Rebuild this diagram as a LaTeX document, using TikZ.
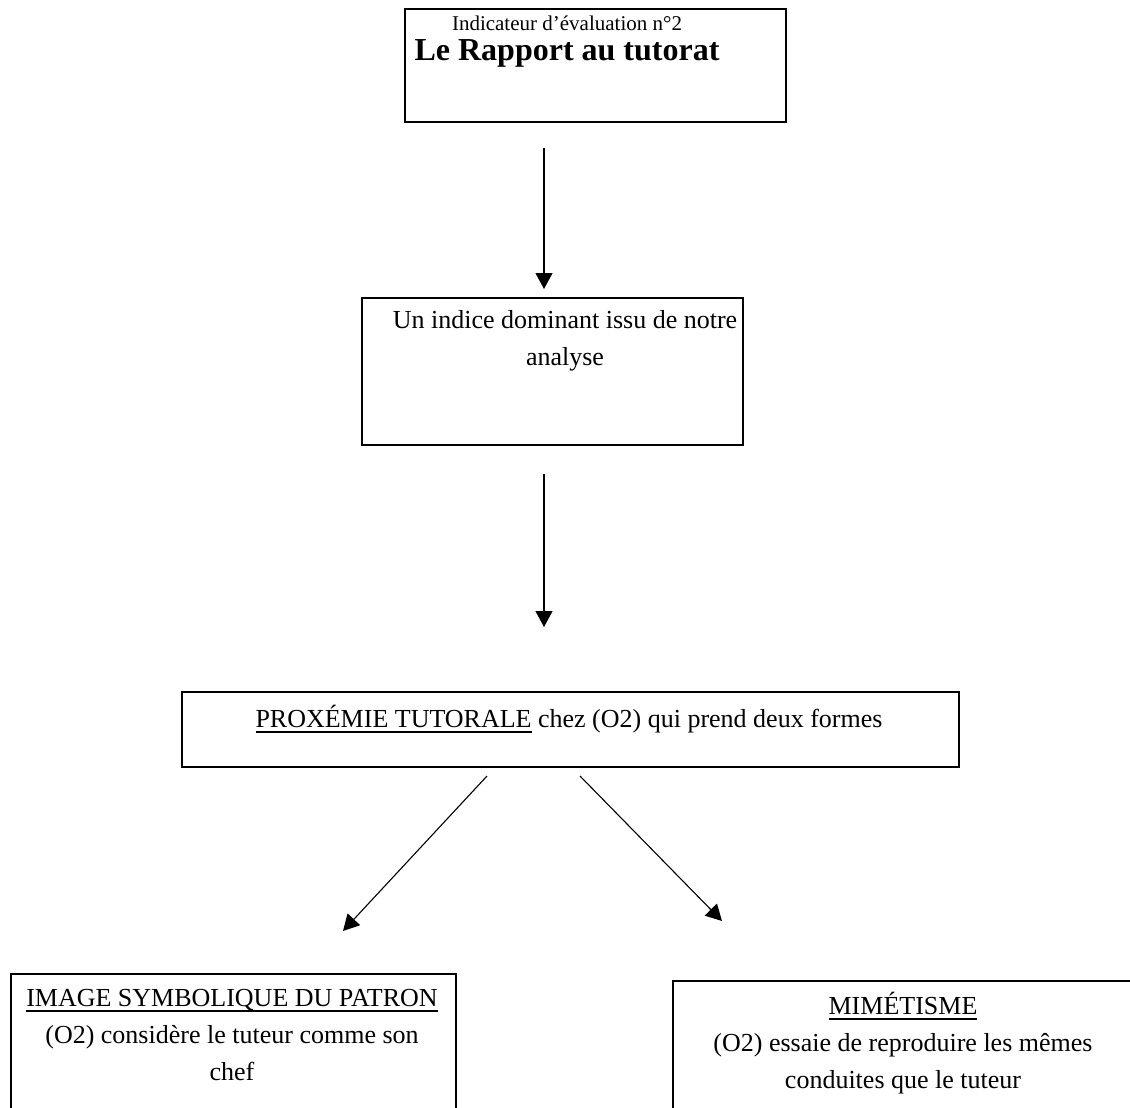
\documentclass[tikz,border=0pt]{standalone}
\usepackage{fontspec}
\setmainfont{Liberation Serif}
\usetikzlibrary{arrows.meta}
\newcommand{\souligne}[1]{\setbox0\hbox{#1}\rlap{\rule[-2.6pt]{\wd0}{0.65pt}}\box0\relax}
\tikzset{
  cadre/.style={draw, line width=0.8pt, inner sep=0pt, anchor=north west},
  fleche/.style={line width=0.55pt, -{Triangle[width=8.5pt,length=8pt]}},
  texte/.style={inner sep=0pt, align=center, font=\fontsize{13}{18.5}\selectfont},
}
\begin{document}
\begin{tikzpicture}[x=0.5pt,y=0.5pt,yscale=-1,xscale=1]
    \clip (0,0) rectangle (1130,1108);
    
    % Boxes
    \node [cadre, minimum width=190.5pt, minimum height=56.5pt] (rapport) at (404,8) {};
    \node [cadre, minimum width=190.5pt, minimum height=73.5pt] (indice) at (361,297) {};
    \node [cadre, minimum width=388.5pt, minimum height=37.5pt] (proxemie) at (181,691) {};
    \node [cadre, minimum width=222.5pt, minimum height=75pt] (patron) at (10,973) {};
    \node [cadre, minimum width=240pt, minimum height=75pt] (mimetisme) at (672,980) {};
    
    % Text Node
    \node [texte, font=\fontsize{10.5}{12}\selectfont] (indicateur) at (567,23) {Indicateur d’évaluation n°2};
    % Text Node
    \node [texte, font=\fontsize{16}{19}\selectfont\bfseries] (titre) at (567,53) {Le Rapport au tutorat};
    % Text Node
    \node [texte] (indiceT) at (565,341) {Un indice dominant issu de notre\\analyse};
    % Text Node
    \node [texte] (proxemieT) at (569,719) {\souligne{PROXÉMIE TUTORALE} chez (O2) qui prend deux formes};
    % Text Node
    \node [texte] (patronT) at (232,1035) {\souligne{IMAGE SYMBOLIQUE DU PATRON}\\(O2) considère le tuteur comme son\\chef};
    % Text Node
    \node [texte] (mimetismeT) at (903,1043) {\souligne{MIMÉTISME}\\(O2) essaie de reproduire les mêmes\\conduites que le tuteur};
    
    % Arrows
    \coordinate (f1h) at (544,148);
    \coordinate (f1b) at (544,289);
    \coordinate (f2h) at (544,474);
    \coordinate (f2b) at (544,627);
    \coordinate (f3h) at (487,776);
    \coordinate (f3b) at (343,931);
    \coordinate (f4h) at (580,776);
    \coordinate (f4b) at (722,921);
    \draw [fleche] (f1h) -- (f1b);
    \draw [fleche] (f2h) -- (f2b);
    \draw [fleche] (f3h) -- (f3b);
    \draw [fleche] (f4h) -- (f4b);
\end{tikzpicture}
\end{document}
